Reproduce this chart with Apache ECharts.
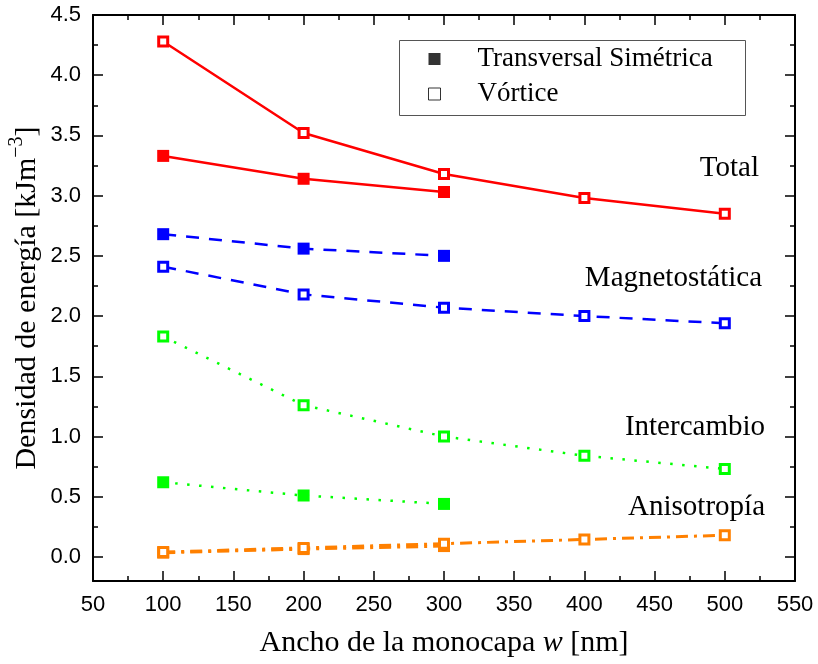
<!DOCTYPE html>
<html>
<head>
<meta charset="utf-8">
<script src="https://cdn.jsdelivr.net/npm/echarts@6/dist/echarts.min.js"></script>
<style>
  html, body { margin: 0; padding: 0; background: #fff; }
  #chart { width: 818px; height: 664px; }
</style>
</head>
<body>
<div id="chart"></div>
<script>
// Widths of the monolayer (nm)
const widthsVortex = [100, 200, 300, 400, 500];
const widthsTransverse = [100, 200, 300];

// Energy densities (kJ m^-3), vortex configuration
const totalVortex   = [4.28, 3.52, 3.18, 2.98, 2.85];
const magnetoVortex = [2.41, 2.18, 2.07, 2.00, 1.94];
const exchVortex    = [1.83, 1.26, 1.00, 0.84, 0.73];
const anisoVortex   = [0.04, 0.075, 0.11, 0.145, 0.18];

// Energy densities (kJ m^-3), symmetric transverse configuration
const totalTrans   = [3.33, 3.14, 3.03];
const magnetoTrans = [2.68, 2.56, 2.50];
const exchTrans    = [0.62, 0.51, 0.44];
const anisoTrans   = [0.035, 0.065, 0.09];

// Axis tick values
const yMajorTicks = [0, 0.5, 1, 1.5, 2, 2.5, 3, 3.5, 4, 4.5];
const yMinorTicks = [0.25, 0.75, 1.25, 1.75, 2.25, 2.75, 3.25, 3.75, 4.25];

// Annotation labels
const labelTotal = 'Total';
const labelMagneto = 'Magnetostática';
const labelExch = 'Intercambio';
const labelAniso = 'Anisotropía';
const legendTrans = 'Transversal Simétrica';
const legendVortex = 'Vórtice';

const SERIF = '"Liberation Serif", "DejaVu Serif", serif';
const SANS = '"Liberation Sans", Arial, sans-serif';

function pairs(xs, ys) { return xs.map((x, i) => [x, ys[i]]); }

const RED = '#ff0000', BLUE = '#0000ff', GREEN = '#00ff00', ORANGE = '#ff8000';

function curve(xs, ys, color, lineType, width, open) {
  return {
    type: 'line',
    data: pairs(xs, ys),
    symbol: 'rect',
    symbolSize: open ? 9 : 12,
    showAllSymbol: true,
    lineStyle: { color: color, width: width, type: lineType, cap: 'butt' },
    itemStyle: open
      ? { color: '#fff', borderColor: color, borderWidth: 3 }
      : { color: color, borderWidth: 0 },
    emphasis: { disabled: true },
    z: open ? 3 : 2
  };
}

const axisLineStyle = { show: true, onZero: false, lineStyle: { color: '#000', width: 2 } };
const tickLine = { color: '#000', width: 1.5 };

const chart = echarts.init(document.getElementById('chart'));
chart.setOption({
  animation: false,
  backgroundColor: '#fff',
  grid: { left: 93, right: 23, top: 15, bottom: 83, containLabel: false, outerBoundsMode: 'none' },
  xAxis: [
    {
      type: 'value', position: 'bottom', min: 50, max: 550, interval: 50,
      axisLine: axisLineStyle,
      axisTick: { inside: true, length: 10, lineStyle: tickLine },
      minorTick: { show: true, splitNumber: 2, length: 5, lineStyle: tickLine },
      axisLabel: { color: '#000', fontFamily: SANS, fontSize: 22, margin: 13 },
      splitLine: { show: false },
      name: 'Ancho de la monocapa {i|w} [nm]',
      nameLocation: 'middle', nameGap: 47, nameMoveOverlap: false,
      nameTextStyle: {
        color: '#000', fontFamily: SERIF, fontSize: 30, lineHeight: 30,
        rich: { i: { fontFamily: SERIF, fontSize: 30, lineHeight: 30, fontStyle: 'italic', color: '#000' } }
      }
    },
    {
      type: 'value', position: 'top', min: 50, max: 550, interval: 50,
      axisLine: axisLineStyle,
      axisTick: { inside: true, length: 10, lineStyle: tickLine },
      minorTick: { show: true, splitNumber: 2, length: 5, lineStyle: tickLine },
      axisLabel: { show: false },
      splitLine: { show: false }
    }
  ],
  yAxis: [
    {
      type: 'value', position: 'left', min: -0.2, max: 4.5,
      axisLine: axisLineStyle,
      axisTick: { inside: true, length: 10, customValues: yMajorTicks, lineStyle: tickLine },
      axisLabel: {
        customValues: yMajorTicks, color: '#000', fontFamily: SANS, fontSize: 22, margin: 12,
        formatter: v => Number(v).toFixed(1)
      },
      splitLine: { show: false },
      name: 'Densidad de energía [kJm{sup|−3}]',
      nameLocation: 'middle', nameGap: 46, nameMoveOverlap: false,
      nameTextStyle: {
        color: '#000', fontFamily: SERIF, fontSize: 30, lineHeight: 40,
        rich: { sup: { fontFamily: SERIF, fontSize: 20, lineHeight: 20, verticalAlign: 'top', color: '#000' } }
      }
    },
    {
      type: 'value', position: 'left', min: -0.2, max: 4.5,
      axisLine: { show: false, onZero: false },
      axisTick: { inside: true, length: 5, customValues: yMinorTicks, lineStyle: tickLine },
      axisLabel: { show: false },
      splitLine: { show: false }
    },
    {
      type: 'value', position: 'right', min: -0.2, max: 4.5,
      axisLine: axisLineStyle,
      axisTick: { inside: true, length: 10, customValues: yMajorTicks, lineStyle: tickLine },
      axisLabel: { show: false },
      splitLine: { show: false }
    },
    {
      type: 'value', position: 'right', min: -0.2, max: 4.5,
      axisLine: { show: false, onZero: false },
      axisTick: { inside: true, length: 5, customValues: yMinorTicks, lineStyle: tickLine },
      axisLabel: { show: false },
      splitLine: { show: false }
    }
  ],
  legend: {
    orient: 'vertical', left: 428, top: 45, padding: 0,
    itemWidth: 12, itemHeight: 12, itemGap: 7,
    selectedMode: false,
    textStyle: { color: '#000', fontFamily: SERIF, fontSize: 27, lineHeight: 28, padding: [0, 0, 0, 32] },
    data: [
      { name: legendTrans, icon: 'rect', itemStyle: { color: '#000', borderWidth: 0 } },
      { name: legendVortex, icon: 'rect', itemStyle: { color: '#fff', borderColor: '#000', borderWidth: 1 } }
    ]
  },
  graphic: [
    { type: 'rect', shape: { x: 399.5, y: 40.5, width: 346, height: 75 },
      style: { fill: 'none', stroke: '#555', lineWidth: 1 }, z: 10 },
    { type: 'text', x: 759, y: 168, style: { text: labelTotal, font: '29px ' + SERIF, fill: '#000', textAlign: 'right', textVerticalAlign: 'middle' } },
    { type: 'text', x: 762, y: 278, style: { text: labelMagneto, font: '29px ' + SERIF, fill: '#000', textAlign: 'right', textVerticalAlign: 'middle' } },
    { type: 'text', x: 765, y: 427, style: { text: labelExch, font: '29px ' + SERIF, fill: '#000', textAlign: 'right', textVerticalAlign: 'middle' } },
    { type: 'text', x: 765, y: 507, style: { text: labelAniso, font: '29px ' + SERIF, fill: '#000', textAlign: 'right', textVerticalAlign: 'middle' } }
  ],
  series: [
    // legend entries
    { type: 'scatter', name: legendTrans, data: [], symbol: 'rect', itemStyle: { color: '#000' } },
    { type: 'scatter', name: legendVortex, data: [], symbol: 'rect', itemStyle: { color: '#fff', borderColor: '#000', borderWidth: 1 } },
    // symmetric transverse wall
    curve(widthsTransverse, totalTrans, RED, 'solid', 2.5, false),
    curve(widthsTransverse, magnetoTrans, BLUE, [13, 10], 2.5, false),
    curve(widthsTransverse, exchTrans, GREEN, [2.5, 9.5], 2.5, false),
    curve(widthsTransverse, anisoTrans, ORANGE, [12, 6, 3, 6], 3, false),
    // vortex wall
    curve(widthsVortex, totalVortex, RED, 'solid', 2.5, true),
    curve(widthsVortex, magnetoVortex, BLUE, [13, 10], 2.5, true),
    curve(widthsVortex, exchVortex, GREEN, [2.5, 9.5], 2.5, true),
    curve(widthsVortex, anisoVortex, ORANGE, [12, 6, 3, 6], 3, true)
  ]
});
</script>
</body>
</html>
